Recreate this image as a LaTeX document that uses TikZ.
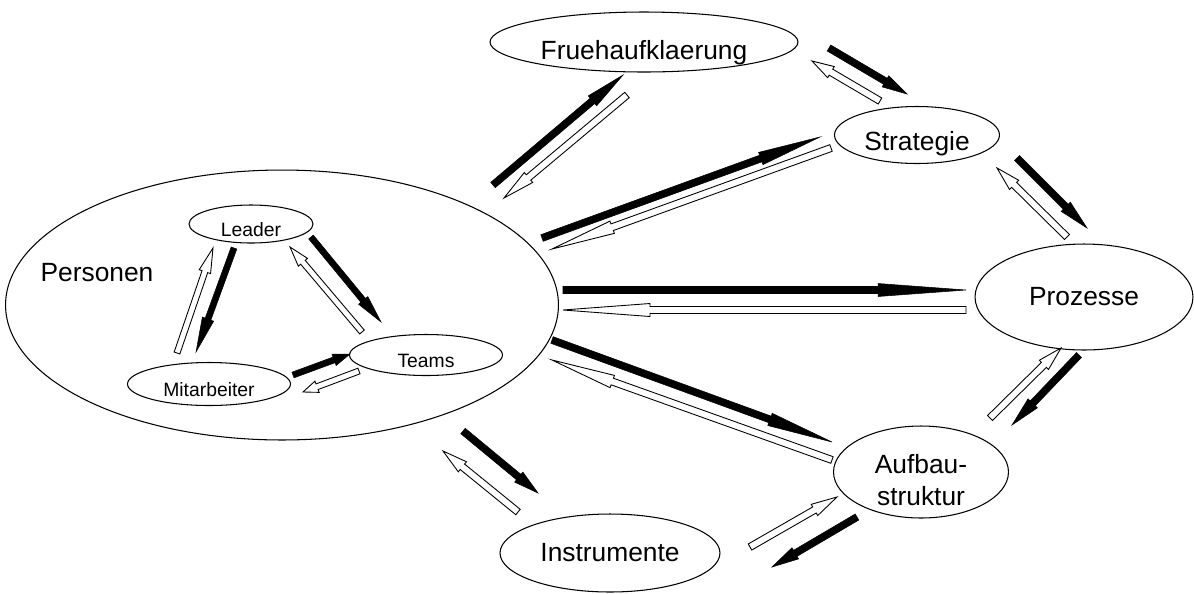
\documentclass[tikz,border=0pt]{standalone}
\usepackage{fontspec}
\setmainfont{Liberation Sans}
\usetikzlibrary{positioning, shapes.geometric, calc}

\newcommand{\shaftw}{0.07cm}
\newcommand{\headw}{0.13cm}
% block arrow: style, from, to, head length
\newcommand{\blockarrow}[4]{%
  \coordinate (bh) at ($(#3)!#4!(#2)$);
  \draw[#1] ($(#2)!\shaftw!90:(#3)$) -- ($(bh)!\shaftw!90:(#3)$) -- ($(bh)!\headw!90:(#3)$)
    -- (#3) -- ($(bh)!\headw!-90:(#3)$) -- ($(bh)!\shaftw!-90:(#3)$) -- ($(#2)!\shaftw!-90:(#3)$) -- cycle;
}

\tikzset{
  bubble/.style={draw, ellipse, semithick, inner sep=0pt},
  biglabel/.style={font=\fontsize{15}{18.5}\selectfont},
  smalllabel/.style={font=\fontsize{11}{13}\selectfont, text height=0.5cm, text depth=0cm},
  push/.style={fill=black, draw=black, line width=0.3pt},
  pull/.style={fill=white, draw=black, line width=0.5pt},
}

\begin{document}
\begin{tikzpicture}[x=0.02cm, y=-0.02cm]
\useasboundingbox (0,0) rectangle (1194,593);

% outer bubbles
\node[bubble, minimum width=11.06cm, minimum height=5.4cm] (personen) at (282,305) {};
\node[biglabel] (personentext) at (97,273) {Personen};
\node[bubble, biglabel, minimum width=6.16cm, minimum height=1.2cm, text height=0.7cm, text depth=0cm] (frueh) at (644,42) {Fruehaufklaerung};
\node[bubble, biglabel, minimum width=3.3cm, minimum height=1.14cm, text height=0.61cm, text depth=0cm] (strat) at (917,135) {Strategie};
\node[bubble, biglabel, minimum width=4.36cm, minimum height=2.12cm] (proz) at (1084,297) {Prozesse};
\node[bubble, minimum width=3.5cm, minimum height=1.84cm] (aufbau) at (921,472) {};
\node[biglabel, align=center] (aufbautext) at ($(aufbau)+(0,8)$) {Aufbau-\\struktur};
\node[bubble, biglabel, minimum width=4.4cm, minimum height=1.56cm] (instr) at (610,553) {Instrumente};

% inner bubbles
\node[bubble, smalllabel, minimum width=2.48cm, minimum height=0.76cm] (leader) at (251,224) {Leader};
\node[bubble, smalllabel, minimum width=3.26cm, minimum height=0.86cm] (mitarb) at (209,384) {Mitarbeiter};
\node[bubble, smalllabel, minimum width=3.06cm, minimum height=0.82cm] (teams) at (426,355) {Teams};

% arrow ends
\coordinate (pf-a) at (493,185); \coordinate (pf-b) at (623,75);
\coordinate (fp-a) at (627,95);  \coordinate (fp-b) at (504,198);
\coordinate (ps-a) at (542,238); \coordinate (ps-b) at (820,137);
\coordinate (sp-a) at (831,148); \coordinate (sp-b) at (552,249);
\coordinate (pz-a) at (563,290); \coordinate (pz-b) at (966,290);
\coordinate (zp-a) at (966,310); \coordinate (zp-b) at (563,310);
\coordinate (pa-a) at (552,340); \coordinate (pa-b) at (832,442);
\coordinate (ap-a) at (832,460); \coordinate (ap-b) at (552,360);
\coordinate (fs-a) at (829,48);  \coordinate (fs-b) at (907,94);
\coordinate (sf-a) at (880,101); \coordinate (sf-b) at (812,61);
\coordinate (sz-a) at (1017,158); \coordinate (sz-b) at (1087,228);
\coordinate (zs-a) at (1067,237); \coordinate (zs-b) at (997,168);
\coordinate (za-a) at (1079,355); \coordinate (za-b) at (1012,425);
\coordinate (az-a) at (990,418);  \coordinate (az-b) at (1061,348);
\coordinate (ai-a) at (857,517); \coordinate (ai-b) at (772,567);
\coordinate (ia-a) at (750,547); \coordinate (ia-b) at (837,497);
\coordinate (pi-a) at (463,431); \coordinate (pi-b) at (538,493);
\coordinate (ip-a) at (518,512); \coordinate (ip-b) at (443,451);

% outer arrows
\blockarrow{push}{pf-a}{pf-b}{0.8cm}
\blockarrow{pull}{fp-a}{fp-b}{0.64cm}
\blockarrow{push}{ps-a}{ps-b}{1.26cm}
\blockarrow{pull}{sp-a}{sp-b}{1.28cm}
\blockarrow{push}{pz-a}{pz-b}{1.76cm}
\blockarrow{pull}{zp-a}{zp-b}{1.74cm}
\blockarrow{push}{pa-a}{pa-b}{1.32cm}
\blockarrow{pull}{ap-a}{ap-b}{1.28cm}
\blockarrow{push}{fs-a}{fs-b}{0.5cm}
\blockarrow{pull}{sf-a}{sf-b}{0.44cm}
\blockarrow{push}{sz-a}{sz-b}{0.6cm}
\blockarrow{pull}{zs-a}{zs-b}{0.48cm}
\blockarrow{push}{za-a}{za-b}{0.6cm}
\blockarrow{pull}{az-a}{az-b}{0.48cm}
\blockarrow{push}{ai-a}{ai-b}{0.54cm}
\blockarrow{pull}{ia-a}{ia-b}{0.52cm}
\blockarrow{push}{pi-a}{pi-b}{0.5cm}
\blockarrow{pull}{ip-a}{ip-b}{0.5cm}

% inner arrows
\begin{scope}
\renewcommand{\shaftw}{0.06cm}
\renewcommand{\headw}{0.12cm}
\coordinate (lm-a) at (234,248); \coordinate (lm-b) at (196,352);
\coordinate (ml-a) at (177,353); \coordinate (ml-b) at (213,248);
\coordinate (lt-a) at (311,237); \coordinate (lt-b) at (381,322);
\coordinate (tl-a) at (362,332); \coordinate (tl-b) at (290,247);
\coordinate (mt-a) at (293,375); \coordinate (mt-b) at (350,354);
\coordinate (tm-a) at (359,371); \coordinate (tm-b) at (303,392);
\blockarrow{push}{lm-a}{lm-b}{0.7cm}
\blockarrow{pull}{ml-a}{ml-b}{0.5cm}
\blockarrow{push}{lt-a}{lt-b}{0.56cm}
\blockarrow{pull}{tl-a}{tl-b}{0.4cm}
\blockarrow{push}{mt-a}{mt-b}{0.34cm}
\blockarrow{pull}{tm-a}{tm-b}{0.3cm}
\end{scope}
\end{tikzpicture}
\end{document}
